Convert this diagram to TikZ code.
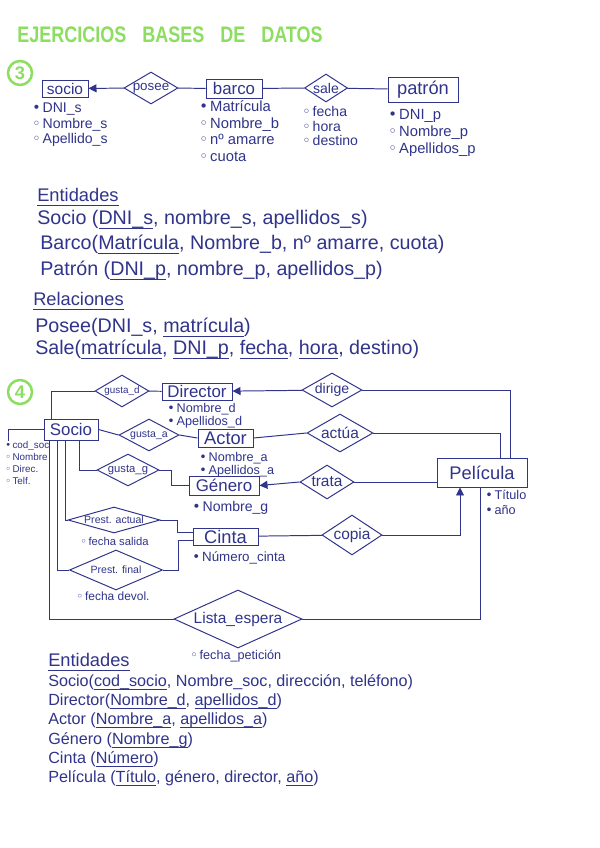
\documentclass[tikz,border=0pt]{standalone}
\usepackage{fontspec}
\setmainfont{Liberation Sans}
\newfontfamily\symfont{DejaVu Sans}
\newfontfamily\titlefont[FakeStretch=0.8]{Liberation Sans}
\usepackage{xcolor}
\usetikzlibrary{shapes.geometric, arrows.meta, positioning}

\definecolor{ink}{RGB}{48,52,138}
\definecolor{marker}{RGB}{140,222,96}

\newcommand{\fs}[2]{\fontsize{#1}{#2}\selectfont}
\newcommand{\pkey}{{\symfont •}\kern0.15em}
\newcommand{\okey}{{\symfont ◦}\kern0.15em}
\newcommand{\keyline}[1]{\leavevmode\setbox0=\hbox{#1}\rlap{\rule[-0.22em]{\wd0}{0.045em}}\box0}

\begin{document}
\begin{tikzpicture}[
    x=0.25mm, y=-0.25mm,
    every node/.style={text=ink},
    entity/.style 2 args={rectangle, draw=ink, line width=0.7pt, inner sep=0pt,
                minimum width=#1mm, minimum height=#2mm},
    rel/.code 2 args={\pgfmathsetmacro\relaspect{#1/#2}%
                \tikzset{diamond, draw=ink, line width=0.7pt, inner sep=0pt,
                minimum width=#1mm, minimum height=#2mm, aspect=\relaspect}},
    attr/.style={align=left, inner sep=0pt, anchor=north west},
    row/.style={anchor=west, inner sep=0pt, font=\fs{14}{16}},
    rowsmall/.style={anchor=west, inner sep=0pt, font=\fs{11.5}{13}},
    link/.style={draw=ink, line width=0.7pt},
    linkarrow/.style={link, -{Triangle[length=2mm, width=2mm]}},
    num/.style={circle, draw=marker, line width=1.8pt, text=marker, minimum size=6mm,
                inner sep=0pt, font=\bfseries\fs{13}{13}}
]

\fill[white] (0,0) rectangle (599,848);

% Title
\node[anchor=west, inner sep=0pt, text=marker, font=\titlefont\bfseries\fs{16}{16}] (title) at (17,35)
    {EJERCICIOS\hspace{4mm}BASES\hspace{4mm}DE\hspace{4mm}DATOS};

% Exercise 3
\node[num] (three) at (20,73) {3};

\node[entity={11.5}{4.25}, font=\fs{11}{11}] (socio3) at (65,88.5) {socio};
\node[rel={13.5}{8}, font=\fs{9.5}{9.5}] (posee) at (151,88) {posee};
\node[entity={14}{4.75}, font=\fs{12}{12}] (barco) at (234,88.5) {barco};
\node[rel={10.75}{7}, font=\fs{10}{10}] (sale) at (326,88) {sale};
\node[entity={17.5}{6.25}, font=\fs{13}{13}] (patron) at (423,89.5) {patrón};

\node[attr, font=\fs{10}{11}] (socio3attr) at (32,103) {\pkey DNI\_s\\ \okey Nombre\_s\\ \okey Apellido\_s};
\node[attr, font=\fs{10.5}{12}] (barcoattr) at (199,100) {\pkey Matrícula\\ \okey Nombre\_b\\ \okey nº amarre\\ \okey cuota};
\node[attr, font=\fs{10}{10.5}] (saleattr) at (302,106) {\okey fecha\\ \okey hora\\ \okey destino};
\node[attr, font=\fs{10.5}{12}] (patronattr) at (388,109) {\pkey DNI\_p\\ \okey Nombre\_p\\ \okey Apellidos\_p};

\draw[linkarrow] (posee) -- (socio3);
\draw[link] (posee) -- (barco);
\draw[link] (barco) -- (sale);
\draw[link] (sale) -- (patron);

\node[row, font=\fs{13}{15}] (ent3) at (37,197) {\keyline{Entidades}};
\node[row] (socio3row) at (37,220) {Socio (\keyline{DNI\_s}, nombre\_s, apellidos\_s)};
\node[row] (barcorow) at (40,244) {Barco(\keyline{Matrícula}, Nombre\_b, nº amarre, cuota)};
\node[row] (patronrow) at (40,270) {Patrón (\keyline{DNI\_p}, nombre\_p, apellidos\_p)};
\node[row, font=\fs{13}{15}] (rel3) at (33,301) {\keyline{Relaciones}};
\node[row] (poseerow) at (35,327) {Posee(DNI\_s, \keyline{matrícula})};
\node[row] (salerow) at (35,349) {Sale(\keyline{matrícula}, \keyline{DNI\_p}, \keyline{fecha}, \keyline{hora}, destino)};

% Exercise 4
\node[num] (four) at (20,392) {4};

\node[entity={13.5}{5.25}, font=\fs{12}{12}] (socio) at (71,429.5) {Socio};
\node[rel={13.5}{8}, font=\fs{7}{7}] (gustad) at (122,391) {gusta\_d};
\node[entity={17.5}{4.25}, font=\fs{12}{12}] (director) at (197,391.5) {Director};
\node[rel={15}{8.5}, font=\fs{10}{10}] (dirige) at (332,390) {dirige};
\node[rel={15}{8}, font=\fs{7.5}{7.5}] (gustaa) at (149,435) {gusta\_a};
\node[entity={13.75}{4.5}, font=\fs{13}{13}] (actor) at (225.5,438) {Actor};
\node[rel={16.5}{9.5}, font=\fs{11}{11}] (actua) at (340,433) {actúa};
\node[rel={15.5}{8}, font=\fs{8}{8}] (gustag) at (128,470) {gusta\_g};
\node[entity={17.5}{4.75}, font=\fs{12}{12}] (genero) at (224,485.5) {Género};
\node[rel={13.5}{8.5}, font=\fs{11}{11}] (trata) at (327,482) {trata};
\node[entity={22.5}{7.25}, font=\fs{13}{13}] (pelicula) at (482,472.5) {Película};
\node[rel={23}{6.5}, font=\fs{7.5}{7.5}] (pactual) at (114,520) {Prest. actual};
\node[rel={23.25}{10}, font=\fs{7.5}{7.5}] (pfinal) at (116,570) {Prest. final};
\node[entity={16.25}{4.25}, font=\fs{13}{13}] (cinta) at (225.5,536.5) {Cinta};
\node[rel={15}{10}, font=\fs{11}{11}] (copia) at (352,535) {copia};
\node[rel={32}{14.5}, font=\fs{11}{11}] (lista) at (238,619) {Lista\_espera};

\node[attr, font=\fs{7}{8.5}] (socattr) at (5,441) {\pkey cod\_soc\\ \okey Nombre\\ \okey Direc.\\ \okey Telf.};
\node[attr, font=\fs{9}{8}] (directorattr) at (167,403) {\pkey Nombre\_d\\ \pkey Apellidos\_d};
\node[attr, font=\fs{9}{8}] (actorattr) at (199,452) {\pkey Nombre\_a\\ \pkey Apellidos\_a};
\node[attr, font=\fs{10}{12}] (generoattr) at (192,501) {\pkey Nombre\_g};
\node[attr, font=\fs{9}{10.5}] (peliculaattr) at (485,490) {\pkey Título\\ \pkey año};
\node[attr, font=\fs{9.5}{11}] (cintaattr) at (192,551) {\pkey Número\_cinta};
\node[attr, font=\fs{8}{9}] (pactualattr) at (80,537) {\okey fecha salida};
\node[attr, font=\fs{8.5}{10}] (pfinalattr) at (76,592) {\okey fecha devol.};
\node[attr, font=\fs{9}{10}] (listaattr) at (190,650) {\okey fecha\_petición};

% Connectors
\draw[link] (socio.west) -| ([xshift=0.75mm]socattr.north west);
\draw[link] ([xshift=2mm]socio.north west) |- (gustad.west);
\draw[link] (gustad) -- (director);
\draw[linkarrow] (dirige) -- (director);
\draw[link] (dirige.east) -| ([xshift=7mm]pelicula.north);
\draw[link] (socio.east) -- (gustaa.west);
\draw[link] (gustaa.east) -- (actor.west);
\draw[link] (actor.east) -- (actua.west);
\draw[link] (actua.east) -| ([xshift=4.5mm]pelicula.north);
\draw[link] ([xshift=9mm]socio.south west) |- (gustag.west);
\draw[link] (gustag.east) -- ++(3mm,0) |- (genero.west);
\draw[linkarrow] (trata.west) -- (genero.east);
\draw[link] (trata.east) -- (trata.east -| pelicula.west);
\draw[link] ([xshift=5.5mm]socio.south west) |- (pactual.west);
\draw[link] ([xshift=3.5mm]socio.south west) |- (pfinal.west);
\draw[link] ([xshift=1.5mm]socio.south west) |- (lista.west);
\draw[link] (pactual.east) -- ++(4.25mm,0) |- ([yshift=1mm]cinta.west);
\draw[link] (pfinal.east) -- ++(3.75mm,0) |- ([yshift=-1mm]cinta.west);
\draw[link] (cinta) -- (copia);
\draw[linkarrow] (copia.east) -| ([xshift=-5.5mm]pelicula.south);
\draw[link] (lista.east) -| ([xshift=-0.5mm]pelicula.south);

\node[rowsmall, font=\fs{13}{15}] (ent4) at (48,662) {\keyline{Entidades}};
\node[rowsmall] (sociorow) at (48,682) {Socio(\keyline{cod\_socio}, Nombre\_soc, dirección, teléfono)};
\node[rowsmall] (directorrow) at (48,701) {Director(\keyline{Nombre\_d}, \keyline{apellidos\_d})};
\node[rowsmall] (actorrow) at (48,720) {Actor (\keyline{Nombre\_a}, \keyline{apellidos\_a})};
\node[rowsmall] (generorow) at (48,740) {Género (\keyline{Nombre\_g})};
\node[rowsmall] (cintarow) at (48,759) {Cinta (\keyline{Número})};
\node[rowsmall] (pelicularow) at (48,778) {Película (\keyline{Título}, género, director, \keyline{año})};

\end{tikzpicture}
\end{document}
